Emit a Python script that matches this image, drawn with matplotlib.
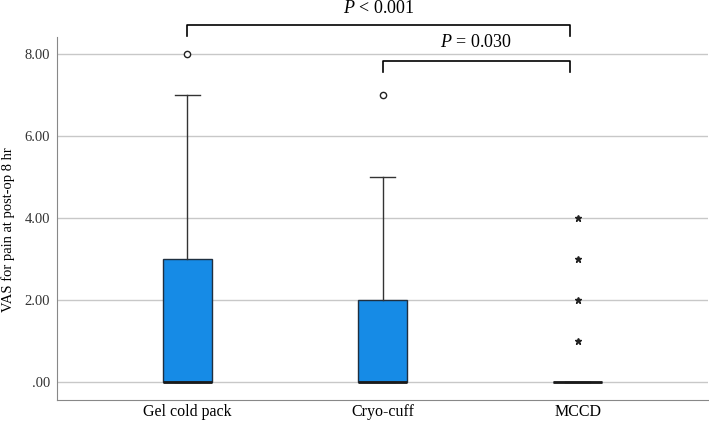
import matplotlib
matplotlib.use('Agg')
import matplotlib.pyplot as plt

plt.rcParams['font.family'] = ['Liberation Serif', 'DejaVu Serif']
plt.rcParams['mathtext.fontset'] = 'custom'
plt.rcParams['mathtext.it'] = 'Liberation Serif:italic'
plt.rcParams['mathtext.rm'] = 'Liberation Serif'

# data
groups = ['Gel cold pack', 'Cryo-cuff', 'MCCD']
q1 = [0, 0, 0]
med = [0, 0, 0]
q3 = [3, 2, 0]
whislo = [0, 0, 0]
whishi = [7, 5, 0]
outliers = [[8], [7], []]          # circles
extremes = [[], [], [1, 2, 3, 4]]  # asterisks
yticks = [0, 2, 4, 6, 8]
ytick_labels = ['.00', '2.00', '4.00', '6.00', '8.00']
ylabel = 'VAS for pain at post-op 8 hr'
p_labels = ['$P$ < 0.001', '$P$ = 0.030']

stats = []
for i, g in enumerate(groups):
    stats.append(dict(label=g, q1=q1[i], med=med[i], q3=q3[i],
                      whislo=whislo[i], whishi=whishi[i], fliers=[]))

fig = plt.figure(figsize=(7.09, 4.24), dpi=100)
ax = fig.add_axes([0.0804, 0.0566, 0.9182, 0.8561])

pos = [1, 2, 3]
ax.bxp(stats, positions=pos, widths=0.25, patch_artist=True, showfliers=False,
       boxprops=dict(facecolor='#168be6', edgecolor='#1f2f40', linewidth=1.0),
       medianprops=dict(color='#1a1a1a', linewidth=2.0),
       whiskerprops=dict(color='#333333', linewidth=1.0),
       capprops=dict(color='#333333', linewidth=1.0),
       capwidths=0.13, zorder=3)

for p, vals in zip(pos, outliers):
    if vals:
        ax.plot([p] * len(vals), vals, 'o', mfc='white', mec='#222222',
                ms=4.5, mew=1.0, zorder=4)
for p, vals in zip(pos, extremes):
    if vals:
        ax.plot([p] * len(vals), vals, '*', color='#222222', ms=5, zorder=4)

ax.set_xlim(0.333, 3.667)
ax.set_ylim(-0.44, 8.415)
ax.set_yticks(yticks)
ax.set_yticklabels(ytick_labels)
ax.set_xticks(pos)
ax.set_xticklabels(groups, fontsize=11.5)
ax.tick_params(axis='y', length=0, labelsize=10.5, colors='#333333', pad=5)
ax.tick_params(axis='x', length=0, pad=3)
ax.set_ylabel(ylabel, fontsize=10.5, va='center')
ax.yaxis.set_label_coords(-0.0745, 0.468)
ax.yaxis.grid(True, color='#c8c8c8', linewidth=1.0)
ax.set_axisbelow(True)
for s in ['top', 'right']:
    ax.spines[s].set_visible(False)
for s in ['left', 'bottom']:
    ax.spines[s].set_color('#888888')

# significance brackets
def bracket(x1, x2, y, h, text, ty):
    ax.plot([x1, x1, x2, x2], [y - h, y, y, y - h], color='black',
            linewidth=1.2, clip_on=False)
    ax.text((x1 + x2) / 2, ty, text, ha='center', va='center',
            fontsize=13, clip_on=False)

bracket(1, 2.96, 8.71, 0.27, p_labels[0], 9.12)
bracket(2, 2.96, 7.83, 0.27, p_labels[1], 8.27)

fig.savefig('out.png', dpi=100)
